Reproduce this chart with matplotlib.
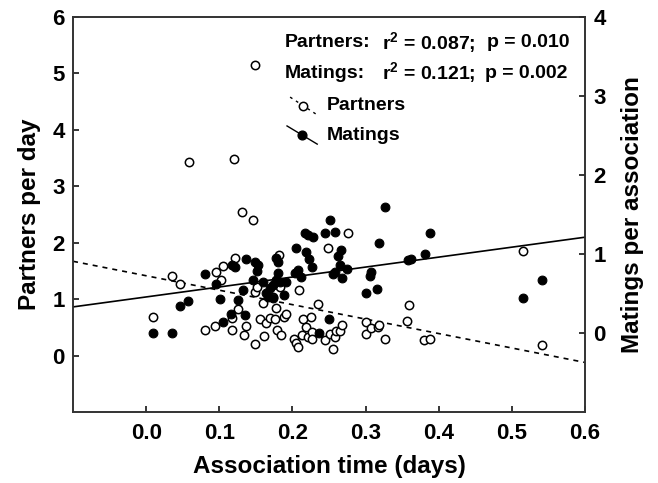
import matplotlib
matplotlib.use("Agg")
import matplotlib.pyplot as plt
import numpy as np
from matplotlib.lines import Line2D

plt.rcParams['font.family'] = ['Liberation Sans', 'DejaVu Sans']
plt.rcParams['font.weight'] = 'bold'
plt.rcParams['mathtext.fontset'] = 'custom'
plt.rcParams['mathtext.bf'] = 'Liberation Sans:bold'
plt.rcParams['mathtext.rm'] = 'Liberation Sans:bold'

# Partners per day (open circles, left axis)
partners_x = [0.009, 0.035, 0.046, 0.058, 0.080, 0.094, 0.096, 0.102, 0.105, 0.117,
              0.117, 0.120, 0.122, 0.126, 0.131, 0.134, 0.136, 0.146, 0.149, 0.149,
              0.149, 0.152, 0.155, 0.160, 0.161, 0.164, 0.170, 0.176, 0.177, 0.179,
              0.181, 0.184, 0.183, 0.173, 0.188, 0.191, 0.202, 0.205, 0.208, 0.209,
              0.213, 0.215, 0.219, 0.221, 0.226, 0.227, 0.227, 0.235, 0.244, 0.249,
              0.255, 0.252, 0.258, 0.260, 0.265, 0.268, 0.276, 0.301, 0.301, 0.307,
              0.317, 0.319, 0.326, 0.356, 0.360, 0.380, 0.388, 0.515, 0.541]
partners_y = [0.69, 1.41, 1.26, 3.43, 0.46, 0.53, 1.48, 1.33, 1.58, 0.66,
              0.46, 3.48, 1.72, 0.83, 2.55, 0.37, 0.53, 2.40, 5.15, 0.20,
              1.12, 1.21, 0.64, 0.93, 0.35, 0.57, 0.67, 0.64, 0.85, 0.46,
              1.79, 0.37, 1.21, 1.03, 0.68, 0.74, 0.30, 0.22, 0.15, 1.16,
              0.36, 0.64, 0.50, 0.32, 0.69, 0.41, 0.30, 0.91, 0.27, 1.90,
              0.12, 0.39, 0.32, 0.44, 0.44, 0.55, 2.17, 0.59, 0.39, 0.48,
              0.50, 0.55, 0.30, 0.62, 0.89, 0.28, 0.30, 1.85, 0.18]

# Matings per association (filled circles, right axis)
matings_x = [0.009, 0.035, 0.046, 0.057, 0.080, 0.096, 0.101, 0.105, 0.116, 0.117,
             0.121, 0.126, 0.132, 0.135, 0.136, 0.146, 0.149, 0.153, 0.151, 0.160,
             0.164, 0.167, 0.169, 0.174, 0.174, 0.177, 0.177, 0.180, 0.180, 0.183,
             0.188, 0.191, 0.203, 0.205, 0.207, 0.212, 0.217, 0.221, 0.228, 0.219,
             0.223, 0.227, 0.236, 0.244, 0.250, 0.252, 0.258, 0.267, 0.262, 0.265,
             0.275, 0.258, 0.255, 0.268, 0.301, 0.306, 0.308, 0.315, 0.319, 0.326,
             0.358, 0.362, 0.381, 0.388, 0.515, 0.541]
matings_y = [0.00, 0.00, 0.34, 0.41, 0.75, 0.62, 0.43, 0.14, 0.24, 0.86,
             0.84, 0.42, 0.55, 0.23, 0.94, 0.67, 0.90, 0.86, 0.79, 0.65,
             0.51, 0.46, 0.57, 0.61, 0.44, 0.67, 0.95, 0.90, 0.76, 0.65,
             0.48, 0.65, 0.76, 1.08, 0.80, 0.71, 1.27, 1.24, 1.22, 1.02,
             0.93, 0.83, 0.00, 1.27, 0.18, 1.43, 1.28, 1.05, 0.97, 0.86,
             0.81, 0.77, 0.75, 0.69, 0.51, 0.72, 0.77, 0.56, 1.14, 1.60,
             0.92, 0.94, 1.00, 1.26, 0.44, 0.67]

# Regression lines (intercept at x=0, slope)
partners_fit = (1.414, -2.56)
matings_fit = (0.456, 1.26)

x_ticks = [0.0, 0.1, 0.2, 0.3, 0.4, 0.5, 0.6]
x_ticklabels = ['0.0', '0.1', '0.2', '0.3', '0.4', '0.5', '0.6']
left_ticks = [0, 1, 2, 3, 4, 5, 6]
right_ticks = [0, 1, 2, 3, 4]

fig = plt.figure(figsize=(6.58, 4.83), dpi=100)
ax = fig.add_axes([0.111, 0.147, 0.778, 0.818])
ax2 = ax.twinx()

ax.set_xlim(-0.1, 0.6)
ax.set_ylim(-1, 6)
ax2.set_ylim(-1, 4)

xx = np.array([-0.1, 0.6])
ax.plot(xx, partners_fit[0] + partners_fit[1] * xx, color='black', lw=1.2,
        linestyle=(0, (3, 3)), zorder=2)
ax2.plot(xx, matings_fit[0] + matings_fit[1] * xx, color='black', lw=1.2, zorder=2)

ax.plot(partners_x, partners_y, 'o', mfc='white', mec='black', ms=6, mew=1.1,
        linestyle='none', zorder=3)
ax2.plot(matings_x, matings_y, 'o', mfc='black', mec='black', ms=6.3, mew=0.8,
         linestyle='none', zorder=3)

for a in (ax, ax2):
    for s in a.spines.values():
        s.set_linewidth(1.2)
        s.set_color('#333333')

tick_fs = 16
ax.set_xticks(x_ticks)
ax.set_xticklabels(x_ticklabels)
ax.set_yticks(left_ticks)
ax2.set_yticks(right_ticks)
ax.tick_params(axis='both', direction='in', length=4, width=1.1, labelsize=tick_fs, pad=6)
ax.tick_params(axis='x', pad=8)
ax2.tick_params(axis='y', direction='in', length=4, width=1.1, labelsize=tick_fs, pad=6)
for lab in ax.get_xticklabels() + ax.get_yticklabels() + ax2.get_yticklabels():
    lab.set_fontweight('bold')

lab_fs = 17.5
ax.set_xlabel('Association time (days)', fontsize=lab_fs, fontweight='bold', labelpad=8)
ax.set_ylabel('Partners per day', fontsize=lab_fs, fontweight='bold', labelpad=8)
ax2.set_ylabel('Matings per association', fontsize=lab_fs, fontweight='bold', labelpad=11)

fs = 14
ax.text(0.414, 0.934, 'Partners:', transform=ax.transAxes, fontsize=fs, fontweight='bold', va='center')
ax.text(0.604, 0.934, 'r$^{\\mathbf{2}}$ = 0.087;', transform=ax.transAxes, fontsize=fs, fontweight='bold', va='center')
ax.text(0.809, 0.934, 'p = 0.010', transform=ax.transAxes, fontsize=fs, fontweight='bold', va='center')
ax.text(0.414, 0.858, 'Matings:', transform=ax.transAxes, fontsize=fs, fontweight='bold', va='center')
ax.text(0.604, 0.858, 'r$^{\\mathbf{2}}$ = 0.121;', transform=ax.transAxes, fontsize=fs, fontweight='bold', va='center')
ax.text(0.805, 0.858, 'p = 0.002', transform=ax.transAxes, fontsize=fs, fontweight='bold', va='center')

# legend keys with diagonal lines
ax.add_line(Line2D([0.424, 0.477], [0.797, 0.752], transform=ax.transAxes, color='black',
                   lw=1.0, linestyle=(0, (2, 3))))
ax.plot([0.449], [0.775], 'o', mfc='white', mec='black', ms=6, mew=1.1, transform=ax.transAxes)
ax.text(0.496, 0.775, 'Partners', transform=ax.transAxes, fontsize=fs, fontweight='bold', va='center')
ax.add_line(Line2D([0.418, 0.477], [0.724, 0.678], transform=ax.transAxes, color='black', lw=1.0))
ax.plot([0.447], [0.701], 'o', mfc='black', mec='black', ms=6.3, transform=ax.transAxes)
ax.text(0.496, 0.701, 'Matings', transform=ax.transAxes, fontsize=fs, fontweight='bold', va='center')

fig.savefig('out.png', dpi=100)
